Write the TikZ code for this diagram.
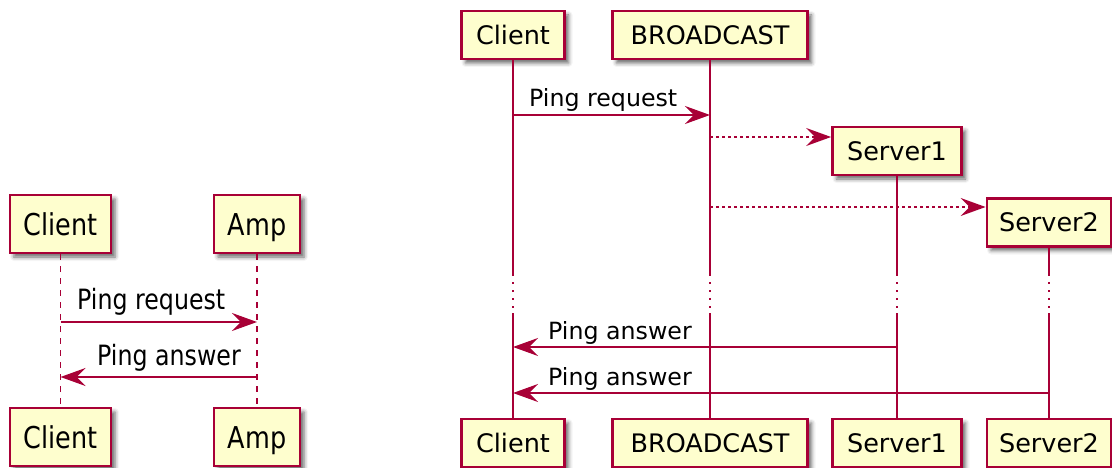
\documentclass[tikz,border=0pt]{standalone}
\usepackage{fontspec}
\setmainfont{DejaVu Sans}
\usepackage{tikz}
\usetikzlibrary{arrows.meta,positioning,calc,shadows.blur}

\definecolor{umlred}{HTML}{A80036}
\definecolor{umlfill}{HTML}{FEFECE}

% left diagram is drawn a bit taller
\newcommand{\tall}[1]{\scalebox{1}[1.18]{#1}}

\tikzset{
    actor/.style={draw=umlred, line width=2.8pt, fill=umlfill, inner sep=0pt,
        font=\fontsize{25.5}{25.5}\selectfont, text height=19pt, text depth=0pt,
        blur shadow={shadow xshift=4pt, shadow yshift=-4pt, shadow blur radius=4pt, shadow opacity=60}},
    tallactor/.style={actor, text height=22pt, minimum width=#1, minimum height=58},
    life/.style={umlred, line width=1.7pt},
    msg/.style={umlred, line width=1.7pt, -{Stealth[length=25pt,width=18pt,inset=9pt]}},
    reply/.style={msg, dash pattern=on 3pt off 3pt},
    msgtext/.style={font=\fontsize{23.7}{23.7}\selectfont, anchor=base west, inner sep=0pt}
}

\begin{document}
\begin{tikzpicture}[x=1pt, y=-1pt]
        \useasboundingbox (0,0) rectangle (1112,468);

        % Left diagram: participants
        \node[tallactor=101] (cL) at (60.5,224) {\tall{Client}};
        \node[tallactor=86] (aL) at (257,224) {\tall{Amp}};
        \node[tallactor=101] (cL-b) at (60.5,437) {\tall{Client}};
        \node[tallactor=86] (aL-b) at (257,437) {\tall{Amp}};

        % Dashed lifelines
        \foreach \p in {cL, aL} {
            \draw[life, dash pattern=on 6pt off 6pt] (\p.south) -- (\p-b.north);
        }

        % Messages
        \coordinate (l1) at (0,322);
        \coordinate (l2) at (0,377);
        \draw[msg] (cL |- l1) -- (aL |- l1);
        \node[msgtext] (lreq) at ($(cL |- l1) + (16.5,-13)$) {\tall{Ping request}};
        \draw[msg] (aL |- l2) -- (cL |- l2);
        \node[msgtext] (lans) at ($(cL |- l2) + (36.5,-12)$) {\tall{Ping answer}};




        % Right diagram: participants
        \node[actor, minimum width=103, minimum height=48] (cR) at (513,35) {Client};
        \node[actor, minimum width=195, minimum height=48] (bR) at (710,35) {BROADCAST};
        \node[actor, minimum width=129, minimum height=48] (s1) at (897,151) {Server1};
        \node[actor, minimum width=124, minimum height=48] (s2) at (1049,222.5) {Server2};

        \node[actor, minimum width=103, minimum height=48] (cR-b) at (513,443) {Client};
        \node[actor, minimum width=195, minimum height=48] (bR-b) at (710,443) {BROADCAST};
        \node[actor, minimum width=129, minimum height=48] (s1-b) at (897,443) {Server1};
        \node[actor, minimum width=124, minimum height=48] (s2-b) at (1049,443) {Server2};

        % Lifelines with the delay
        \coordinate (d1) at (0,274);
        \coordinate (d2) at (0,313);
        \foreach \p in {cR, bR, s1, s2} {
            \draw[life] (\p.south) -- (\p.south |- d1);
            \draw[life, dash pattern=on 2pt off 6pt] (\p.south |- d1) -- (\p.south |- d2);
            \draw[life] (\p.south |- d2) -- (\p-b.north);
        }

        % Messages
        \coordinate (r1) at (0,115);
        \coordinate (r2) at (0,137);
        \coordinate (r3) at (0,207);
        \coordinate (r4) at (0,347);
        \coordinate (r5) at (0,393);

        \draw[msg] (cR |- r1) -- (bR |- r1);
        \node[msgtext] (rreq) at ($(cR |- r1) + (16,-8)$) {Ping request};

        \draw[reply] (bR |- r2) -- (s1.west |- r2);
        \draw[reply] (bR |- r3) -- (s2.west |- r3);

        \draw[msg] (s1 |- r4) -- (cR |- r4);
        \node[msgtext] (rans1) at ($(cR |- r4) + (35,-8)$) {Ping answer};
        \draw[msg] (s2 |- r5) -- (cR |- r5);
        \node[msgtext] (rans2) at ($(cR |- r5) + (35,-8)$) {Ping answer};

\end{tikzpicture}
\end{document}
